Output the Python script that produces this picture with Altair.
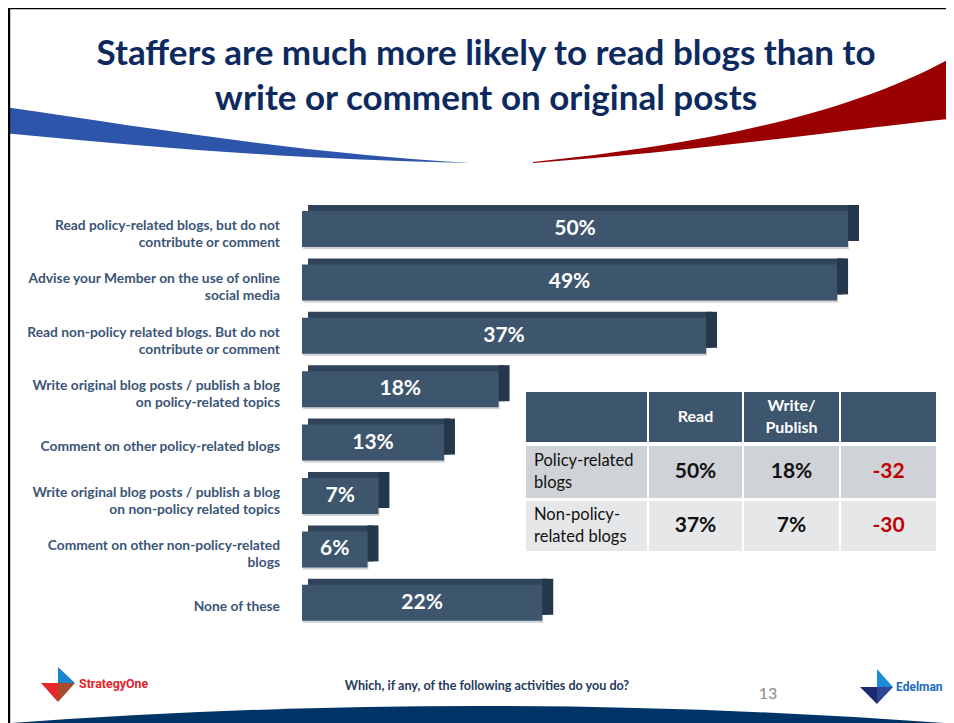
import altair as alt
import pandas as pd

# ---------------- data ----------------
activities = [
    "Read policy-related blogs, but do not\ncontribute or comment",
    "Advise your Member on the use of online\nsocial media",
    "Read non-policy related blogs. But do not\ncontribute or comment",
    "Write original blog posts / publish a blog\non policy-related topics",
    "Comment on other policy-related blogs",
    "Write original blog posts / publish a blog\non non-policy related topics",
    "Comment on other non-policy-related\nblogs",
    "None of these",
]
shares = [50, 49, 37, 18, 13, 7, 6, 22]

table_header = ["", "Read", "Write/\nPublish", ""]
table_rows = ["Policy-related\nblogs", "Non-policy-\nrelated blogs"]
table_read = ["50%", "37%"]
table_write = ["18%", "7%"]
table_diff = ["-32", "-30"]

title_text = "Staffers are much more likely to read blogs than to\nwrite or comment on original posts"
footer_text = "Which, if any, of the following activities do you do?"
page_number = "13"

# ---------------- styles ----------------
FRONT = "#3d566e"
TOP = "#2f4458"
SIDE = "#25374a"
NAVY = "#0d2a5e"
LABEL = "#3b5577"
FONT = "Lato"

W, H = 938, 715

bars_df = pd.DataFrame({"activity": activities, "share": shares})
bars_df["nlines"] = bars_df["activity"].str.count("\n") + 1

yscale = alt.Scale(domain=activities, range=[194.3, 621.5],
                   paddingInner=0.326, paddingOuter=0.163)
xscale = alt.Scale(domain=[0, 50], range=[294, 840])

base = alt.Chart(bars_df).encode(
    y=alt.Y("activity:N", sort=None, scale=yscale, axis=None),
)

shadow = base.mark_bar(color="#cfd2d5", yOffset=2, xOffset=1).encode(
    x=alt.X("share:Q", scale=xscale, axis=None))
topface = base.mark_bar(color=TOP, xOffset=6, yOffset=-6).encode(
    x=alt.X("share:Q", scale=xscale, axis=None))
sideface = base.mark_bar(color=SIDE, yOffset=-6, x2Offset=11).encode(
    x=alt.X("share:Q", scale=xscale, axis=None), x2="share:Q")
front = base.mark_bar(color=FRONT).encode(
    x=alt.X("share:Q", scale=xscale, axis=None))
bar_text = base.transform_calculate(
    mid="datum.share / 2", lab="datum.share + '%'"
).mark_text(color="white", font=FONT, fontWeight="bold", fontSize=21,
            baseline="middle").encode(
    x=alt.X("mid:Q", scale=xscale, axis=None), text="lab:N")


def cat_layer(n, dy):
    return base.transform_filter(f"datum.nlines == {n}").mark_text(
        align="right", baseline="middle", font=FONT, fontWeight="bold",
        fontSize=13.8, color=LABEL, lineBreak="\n", lineHeight=17, dy=dy
    ).encode(x=alt.value(272), text="activity:N")


cat_two = cat_layer(2, -3)
cat_one = cat_layer(1, 4.5)

# ---------------- table ----------------
col_edges = [(518, 639), (641, 734), (736, 831), (833, 928)]
row_edges = [(384, 434), (438, 490), (493, 543)]
row_fills = [FRONT, "#cfd2d6", "#e6e7e9"]
TLH = 22
cells = []
for r, (y0, y1) in enumerate(row_edges):
    for c, (x0, x1) in enumerate(col_edges):
        cells.append({"x0": x0, "x1": x1, "y0": y0, "y1": y1, "fill": row_fills[r]})
cells_df = pd.DataFrame(cells)
table_cells = alt.Chart(cells_df).mark_rect().encode(
    x=alt.X("x0:Q", scale=None, axis=None), x2="x1:Q",
    y=alt.Y("y0:Q", scale=None, axis=None), y2="y1:Q",
    color=alt.Color("fill:N", scale=None))


def first_line_y(center, text):
    n = text.count("\n") + 1
    return center - (n - 1) * TLH / 2


texts = []
for c, t in enumerate(table_header):
    if t:
        cy = (row_edges[0][0] + row_edges[0][1]) / 2
        texts.append({"cx": (col_edges[c][0] + col_edges[c][1]) / 2,
                      "cy": first_line_y(cy, t),
                      "t": t, "col": "white", "w": "bold", "s": 16, "a": "center"})
for r in range(2):
    cy = (row_edges[r + 1][0] + row_edges[r + 1][1]) / 2
    texts.append({"cx": col_edges[0][0] + 8, "cy": first_line_y(cy, table_rows[r]),
                  "t": table_rows[r], "col": "#111111", "w": "normal", "s": 16.5, "a": "left"})
    for c, vals, colr in [(1, table_read, "#111111"), (2, table_write, "#111111"),
                          (3, table_diff, "#c00000")]:
        texts.append({"cx": (col_edges[c][0] + col_edges[c][1]) / 2, "cy": cy,
                      "t": vals[r], "col": colr, "w": "bold", "s": 21, "a": "center"})
tdf = pd.DataFrame(texts)


def table_text_layer(df):
    row = df.iloc[0]
    return alt.Chart(df).mark_text(
        font=FONT, fontSize=float(row["s"]), fontWeight=row["w"], align=row["a"],
        baseline="middle", lineBreak="\n", lineHeight=TLH).encode(
        x=alt.X("cx:Q", scale=None, axis=None),
        y=alt.Y("cy:Q", scale=None, axis=None),
        text="t:N", color=alt.Color("col:N", scale=None))


tt_layers = []
for key, grp in tdf.groupby(["s", "w", "a"]):
    tt_layers.append(table_text_layer(grp.reset_index(drop=True)))

# ---------------- decorations ----------------
def shape(path, color):
    return alt.Chart(pd.DataFrame({"k": [0]})).mark_point(
        shape=path, size=4, filled=True, color=color, opacity=1, strokeWidth=0
    ).encode(x=alt.value(0), y=alt.value(0))


blue_swoosh = shape("M-4,99 C140,120 300,146 462,155 C300,152 150,140 -4,125 Z", "#2d56ab")
red_swoosh = shape("M525,154 C700,136 850,104 950,46 L950,110 C850,120 700,142 525,155 Z", "#9a0000")
bottom_swoosh = shape("M-10,716 Q470,680 950,716 L950,730 L-10,730 Z", "#003466")
frame = shape("M0,-1 L940,-1 L940,1.2 L2.2,1.2 L2.2,716 L0,716 Z", "#000000")

s1_blue = shape("M50,659 L50,675 L67,675 Z", "#1a86cf")
s1_red = shape("M33,675 L50,675 L50,694 Z", "#e8262b")
s1_brown = shape("M50,675 L67,675 L50,694 Z", "#a94a2c")
ed_blue = shape("M869,661 L869,679 L885,679 Z", "#1d8ad6")
ed_navy1 = shape("M852,679 L869,679 L869,696 Z", "#1c2a6e")
ed_navy2 = shape("M869,679 L885,679 L869,696 Z", "#2e4596")


def label(text, x, y, size, color, weight="normal", font=FONT, align="center", lh=45):
    return alt.Chart(pd.DataFrame({"t": [text]})).mark_text(
        font=font, fontSize=size, fontWeight=weight, color=color, align=align,
        baseline="middle", lineBreak="\n", lineHeight=lh).encode(
        x=alt.value(x), y=alt.value(y), text="t:N")


title = label(title_text, 478, 46, 35, NAVY, "bold")
footer = label(footer_text, 479, 678, 12.6, "#263a5c", "bold")
pnum = label(page_number, 760, 686, 16, "#8a8a8a")
s1_text = label("StrategyOne", 71, 676, 12.4, "#e62229", "bold", "Roboto", "left")
ed_text = label("Edelman", 888, 679, 12, "#1c6cc0", "bold", "Roboto", "left")

chart = alt.layer(
    blue_swoosh, red_swoosh, bottom_swoosh, frame,
    shadow, topface, sideface, front, bar_text, cat_two, cat_one,
    table_cells, *tt_layers,
    title, footer, pnum, s1_blue, s1_red, s1_brown, ed_blue, ed_navy1, ed_navy2,
    s1_text, ed_text,
).resolve_scale(x="independent", y="independent").properties(
    width=W, height=H, padding=0, autosize="none", background="white"
).configure_view(stroke=None, strokeWidth=0)

chart.save("out.html", embed_options={"renderer": "svg", "actions": False})
